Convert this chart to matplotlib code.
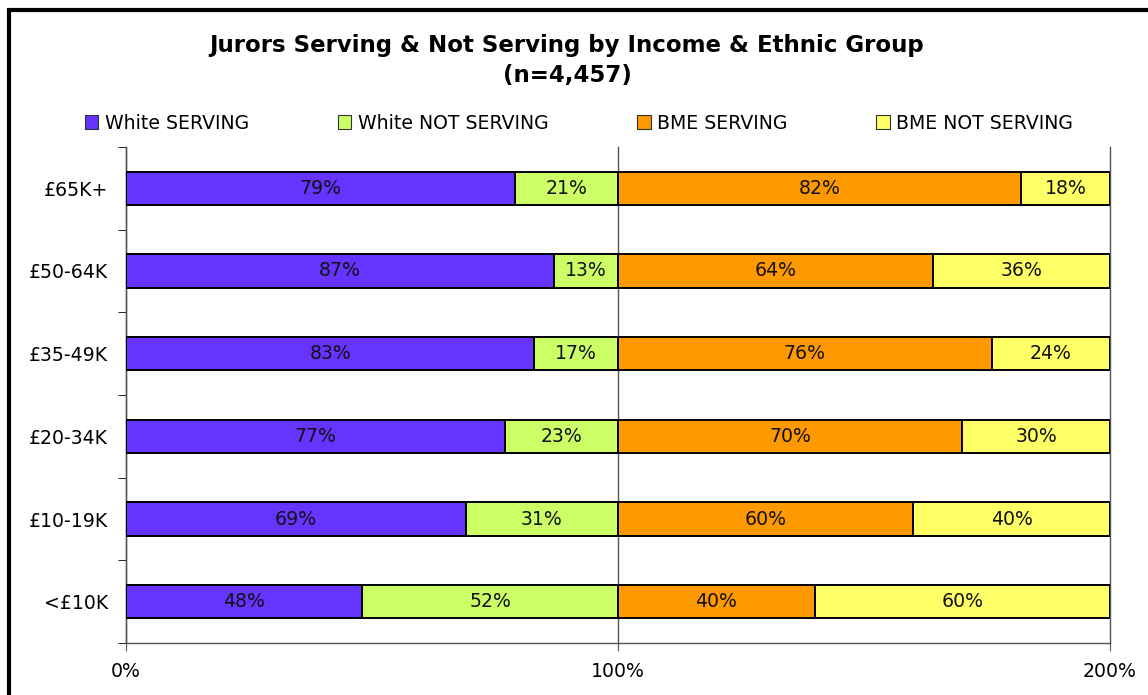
import numpy as np
import matplotlib.pyplot as plt
from matplotlib.patches import Rectangle

# data (bottom to top, as drawn)
categories = ['<£10K', '£10-19K', '£20-34K', '£35-49K', '£50-64K', '£65K+']
white_serving = [48, 69, 77, 83, 87, 79]
white_not = [52, 31, 23, 17, 13, 21]
bme_serving = [40, 60, 70, 76, 64, 82]
bme_not = [60, 40, 30, 24, 36, 18]
series_names = ['White SERVING', 'White NOT SERVING', 'BME SERVING', 'BME NOT SERVING']
colors = ['#6633FF', '#CCFF66', '#FF9900', '#FFFF66']
x_ticks = [0, 100, 200]
x_labels = ['0%', '100%', '200%']

plt.rcParams['font.family'] = ['DejaVu Sans']
FS = 13.6

fig = plt.figure(figsize=(11.48, 6.95), dpi=100)
ax = fig.add_axes([0.1098, 0.0748, 0.8571, 0.7137])

y = np.arange(len(categories))
series = [white_serving, white_not, bme_serving, bme_not]
left = np.zeros(len(categories))
handles = []
for vals, c, name in zip(series, colors, series_names):
    vals = np.array(vals, dtype=float)
    b = ax.barh(y, vals, left=left, height=0.4, color=c, edgecolor='black',
                linewidth=1.4, label=name, zorder=3)
    handles.append(b)
    for yi, l, v in zip(y, left, vals):
        ax.text(l + v / 2, yi, f'{int(v)}%', ha='center', va='center',
                fontsize=FS, color='#111111', zorder=4)
    left += vals

ax.set_xlim(0, 200)
ax.set_ylim(-0.5, len(categories) - 0.5)
ax.set_xticks(x_ticks)
ax.set_xticklabels(x_labels, fontsize=FS)
ax.set_yticks(y)
ax.set_yticklabels(categories, fontsize=FS)
ax.tick_params(axis='y', length=0, pad=13)
ax.set_yticks(np.arange(-0.5, len(categories), 1), minor=True)
ax.tick_params(axis='y', which='minor', length=6, color='black', direction='out')
ax.tick_params(axis='x', length=6, color='#555555', pad=8)
ax.xaxis.grid(True, color='#555555', linewidth=1.0, zorder=0)
for gl in ax.get_xgridlines():
    gl.set_clip_on(False)

for s in ['top', 'right']:
    ax.spines[s].set_visible(False)
for s in ['left', 'bottom']:
    ax.spines[s].set_color('#555555')
    ax.spines[s].set_linewidth(1.0)

fig.text(0.494, 0.935, 'Jurors Serving & Not Serving by Income & Ethnic Group',
         ha='center', va='center', fontsize=16.5, fontweight='bold')
fig.text(0.494, 0.892, '(n=4,457)', ha='center', va='center',
         fontsize=16.5, fontweight='bold')

leg = fig.legend(handles=handles, labels=series_names, loc='center left',
                 bbox_to_anchor=(0.074, 0.823), ncol=4, frameon=False,
                 fontsize=FS, handlelength=0.7, handleheight=0.7,
                 handletextpad=0.36, columnspacing=4.7, borderaxespad=0,
                 borderpad=0)
for h in leg.legend_handles:
    h.set_linewidth(0.8)
    h.set_edgecolor('#333333')

# outer chart border (right and bottom run off the canvas)
fig.patches.append(Rectangle((8.5 / 1148, -0.02), 1.02, 1.0 - 10 / 695 + 0.02,
                             transform=fig.transFigure, fill=False,
                             edgecolor='black', linewidth=3, clip_on=False))

fig.savefig('out.png', dpi=100)
